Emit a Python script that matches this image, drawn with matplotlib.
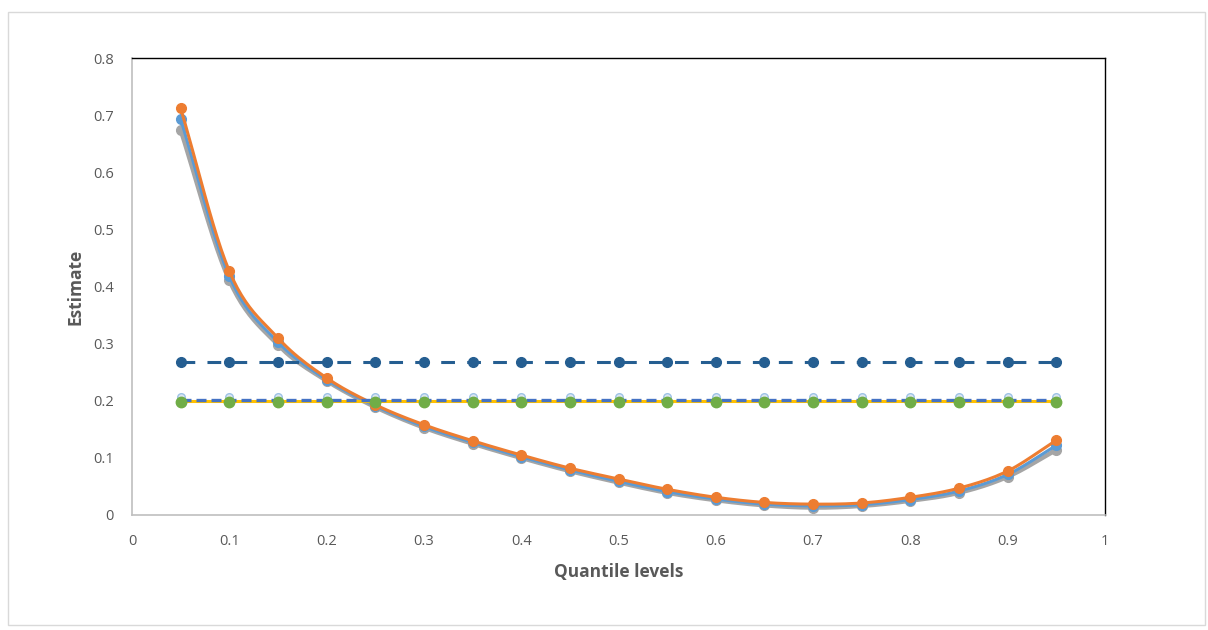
import matplotlib
matplotlib.use("Agg")
import matplotlib.pyplot as plt
from matplotlib.patches import Rectangle
import numpy as np

q = [0.05, 0.10, 0.15, 0.20, 0.25, 0.30, 0.35, 0.40, 0.45, 0.50,
     0.55, 0.60, 0.65, 0.70, 0.75, 0.80, 0.85, 0.90, 0.95]

orange = [0.712, 0.427, 0.310, 0.240, 0.193, 0.158, 0.130, 0.105, 0.082, 0.063,
          0.045, 0.031, 0.022, 0.019, 0.021, 0.031, 0.047, 0.077, 0.131]
blue = [0.693, 0.418, 0.303, 0.237, 0.191, 0.155, 0.127, 0.102, 0.079, 0.059,
        0.041, 0.028, 0.019, 0.016, 0.018, 0.027, 0.042, 0.071, 0.122]
gray = [0.674, 0.411, 0.298, 0.235, 0.189, 0.153, 0.125, 0.100, 0.077, 0.057,
        0.039, 0.026, 0.017, 0.013, 0.016, 0.025, 0.039, 0.067, 0.114]

h_darkblue = [0.268] * len(q)
h_light = [0.206] * len(q)
h_blue = [0.201] * len(q)
h_yellow = [0.200] * len(q)
h_green = [0.198] * len(q)

xticks = [0, 0.1, 0.2, 0.3, 0.4, 0.5, 0.6, 0.7, 0.8, 0.9, 1]
yticks = [0, 0.1, 0.2, 0.3, 0.4, 0.5, 0.6, 0.7, 0.8]


def smooth(xs, ys, n=12):
    """Catmull-Rom rendering of a line through the given points (Excel-style smoothing)."""
    x = np.asarray(xs, float)
    y = np.asarray(ys, float)
    px = np.concatenate([[2 * x[0] - x[1]], x, [2 * x[-1] - x[-2]]])
    py = np.concatenate([[2 * y[0] - y[1]], y, [2 * y[-1] - y[-2]]])
    outx, outy = [], []
    t = np.linspace(0, 1, n, endpoint=False)
    for i in range(1, len(px) - 2):
        for arr, out in ((px, outx), (py, outy)):
            p0, p1, p2, p3 = arr[i - 1], arr[i], arr[i + 1], arr[i + 2]
            out.extend(0.5 * ((2 * p1) + (-p0 + p2) * t
                              + (2 * p0 - 5 * p1 + 4 * p2 - p3) * t ** 2
                              + (-p0 + 3 * p1 - 3 * p2 + p3) * t ** 3))
    outx.append(x[-1])
    outy.append(y[-1])
    return outx, outy


plt.rcParams['font.family'] = ['Open Sans', 'DejaVu Sans']

fig = plt.figure(figsize=(12.08, 6.30), dpi=100)
fig.patches.append(Rectangle((8/1208, 1 - 625/630), (1205-8)/1208, (625-12)/630,
                             transform=fig.transFigure, fill=False,
                             edgecolor='#d9d9d9', linewidth=1.0))
ax = fig.add_axes([132/1208, 1 - 515/630, (1105-132)/1208, (515-58)/630])

ms = 7
for ys, col, lw, z in ((gray, '#a5a5a5', 3.2, 3), (blue, '#5b9bd5', 2.2, 4),
                       (orange, '#ed7d31', 2.2, 5)):
    sx, sy = smooth(q, ys)
    ax.plot(sx, sy, color=col, lw=lw, zorder=z, solid_capstyle='round')
    ax.plot(q, ys, color=col, lw=0, marker='o', ms=ms, zorder=z)

ax.plot(q, h_darkblue, color='#255e91', lw=2.2, ls=(0, (4.5, 4)), marker='o', ms=ms, zorder=6)
ax.plot(q, h_light, color='#9dc3e6', lw=0, marker='o', ms=5.5, mfc='#dce6f2',
        mec='#9dc3e6', zorder=6)
ax.plot(q, h_yellow, color='#ffc000', lw=2.2, ls='-', zorder=6)
ax.plot(q, h_blue, color='#4472c4', lw=2.4, ls=(0, (3, 1.5)), zorder=7)
ax.plot(q, h_green, color='#70ad47', lw=0, marker='o', ms=ms + 0.5, zorder=8)

ax.set_xlim(0, 1)
ax.set_ylim(0, 0.8)
ax.set_xticks(xticks)
ax.set_yticks(yticks)
ax.set_xticklabels([f"{t:g}" for t in xticks])
ax.set_yticklabels([f"{t:g}" for t in yticks])
ax.tick_params(axis='both', length=0, labelsize=10.5, labelcolor='#595959')
ax.tick_params(axis='x', pad=14)
ax.tick_params(axis='y', pad=13)

for s in ['top', 'right']:
    ax.spines[s].set_color('black')
    ax.spines[s].set_linewidth(1.0)
for s in ['left', 'bottom']:
    ax.spines[s].set_color('#bfbfbf')
    ax.spines[s].set_linewidth(1.2)

ax.set_xlabel('Quantile levels', fontsize=12.5, fontweight='bold', color='#595959', labelpad=10)
ax.set_ylabel('Estimate', fontsize=12.5, fontweight='bold', color='#595959', labelpad=6)

fig.savefig('out.png', dpi=100, facecolor='white')
